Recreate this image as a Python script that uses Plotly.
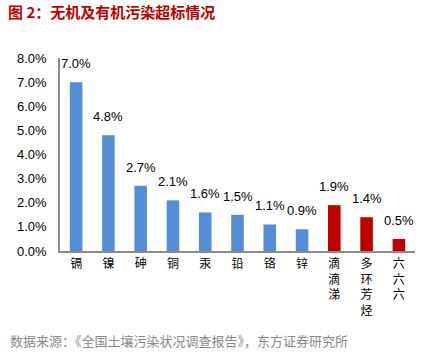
import plotly.graph_objects as go

categories = ["镉", "镍", "砷", "铜", "汞", "铅", "铬", "锌", "滴<br>滴<br>涕", "多<br>环<br>芳<br>烃", "六<br>六<br>六"]
values = [7.0, 4.8, 2.7, 2.1, 1.6, 1.5, 1.1, 0.9, 1.9, 1.4, 0.5]
group = ["inorganic"] * 8 + ["organic"] * 3
y_ticks = [0, 1, 2, 3, 4, 5, 6, 7, 8]
y_tick_labels = ["0.0%", "1.0%", "2.0%", "3.0%", "4.0%", "5.0%", "6.0%", "7.0%", "8.0%"]

BLUE = "#558ED5"
RED = "#C00000"
colors = [BLUE if g == "inorganic" else RED for g in group]

FONT = "Liberation Sans, Noto Sans CJK SC, sans-serif"
CJK = "Noto Sans CJK SC, sans-serif"

fig = go.Figure()
fig.add_trace(go.Bar(
    x=list(range(len(categories))),
    y=values,
    marker=dict(color=colors, line=dict(width=0)),
    width=0.39,
    hoverinfo="skip",
))

annotations = []
for i, v in enumerate(values):
    annotations.append(dict(
        x=i, y=v, xref="x", yref="y", text=f"{v:.1f}%",
        showarrow=False, yanchor="bottom", yshift=9,
        font=dict(family=FONT, size=13, color="#000000"),
    ))

W, H = 422, 354
L, R, T, B = 60, 7, 57.5, 103.3
pw, ph = W - L - R, H - T - B

annotations.append(dict(
    xref="paper", yref="paper", x=(8 - L) / pw, y=(H - B - 340) / ph,
    xanchor="left", yanchor="middle", showarrow=False,
    text="数据来源：《全国土壤污染状况调查报告》，东方证券研究所",
    font=dict(family=CJK, size=13, color="#8A8A8A"),
))

fig.update_layout(
    width=W, height=H,
    margin=dict(l=L, r=R, t=T, b=B),
    paper_bgcolor="white", plot_bgcolor="white",
    showlegend=False,
    title=dict(
        text="<b>图 2：无机及有机污染超标情况</b>",
        xref="container", yref="container", x=8 / W, y=1 - 13 / H,
        xanchor="left", yanchor="middle",
        font=dict(family=CJK, size=15, color=RED),
    ),
    annotations=annotations,
    xaxis=dict(
        tickmode="array", tickvals=list(range(len(categories))), ticktext=categories,
        range=[-0.5, len(categories) - 0.5],
        showline=True, linecolor="#8C8C8C", linewidth=1.5,
        ticks="", showgrid=False, zeroline=False,
        tickfont=dict(family=CJK, size=12, color="#000000"),
        ticklabelstandoff=1,
    ),
    yaxis=dict(
        tickmode="array", tickvals=y_ticks, ticktext=y_tick_labels,
        range=[0, 8],
        showline=True, linecolor="#8C8C8C", linewidth=1.5,
        ticks="", showgrid=False, zeroline=False,
        tickfont=dict(family=FONT, size=13, color="#000000"),
        ticklabelstandoff=9,
    ),
)

fig.write_html("out.html")
